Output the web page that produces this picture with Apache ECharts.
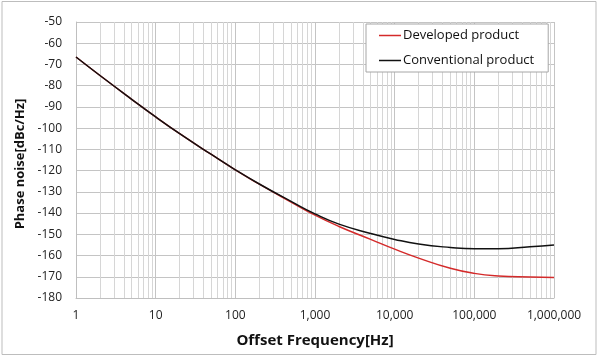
<!DOCTYPE html>
<html><head><meta charset="utf-8">
<script src="https://cdn.jsdelivr.net/npm/echarts@6/dist/echarts.min.js"></script>
<style>html,body{margin:0;padding:0;background:#fff}#c{width:600px;height:358px}</style>
</head><body><div id="c"></div>
<script>
const freqs = [1, 2, 5, 10, 20, 50, 100, 200, 500, 1000, 2000, 5000, 10000, 20000, 50000, 100000, 200000, 500000, 1000000];
const developed = [-66.5, -75.2, -86.4, -94.7, -102.6, -112.4, -119.7, -126.4, -134.8, -141.0, -146.3, -152.4, -157.0, -161.2, -166.0, -168.4, -169.6, -170.1, -170.3];
const conventional = [-66.5, -75.2, -86.4, -94.7, -102.6, -112.4, -119.6, -126.3, -134.5, -140.4, -145.2, -149.6, -152.4, -154.6, -156.2, -156.8, -156.8, -155.9, -155.0];
const yTicks = [-180, -50, 10];
const minorLines = [];
for (let d = 1; d < 1000000; d *= 10) for (let k = 2; k <= 9; k++) minorLines.push(d * k);

const font = "'Open Sans', 'Liberation Sans', sans-serif";
const chart = echarts.init(document.getElementById('c'));
chart.setOption({
  animation: false,
  textStyle: { fontFamily: font },
  grid: { left: 76, right: 46, top: 22, bottom: 60 },
  graphic: [{ type: 'rect', shape: { x: 2, y: 1.5, width: 594, height: 353 }, style: { fill: 'none', stroke: '#bdbdbd', lineWidth: 1 }, silent: true }],
  legend: {
    orient: 'vertical', left: 366, top: 24, width: 185,
    padding: [5, 14, 5, 13], itemGap: 12,
    backgroundColor: '#fff', borderColor: '#a6a6a6', borderWidth: 1,
    icon: 'rect', itemWidth: 22, itemHeight: 1.5,
    textStyle: { fontFamily: font, fontSize: 13, color: '#111', padding: [0, 0, 0, -3] },
    data: ['Developed product', 'Conventional product']
  },
  xAxis: {
    type: 'log', logBase: 10, min: 1, max: 1000000,
    name: 'Offset Frequency[Hz]', nameLocation: 'middle', nameGap: 35,
    nameTextStyle: { fontFamily: font, fontSize: 15, fontWeight: 'bold', color: '#111' },
    axisLine: { lineStyle: { color: '#bfbfbf' } },
    axisTick: { show: false },
    axisLabel: { color: '#222', fontSize: 12, margin: 12, formatter: v => Number(v).toLocaleString('en-US') },
    splitLine: { show: true, lineStyle: { color: '#c4c4c4' } }
  },
  yAxis: {
    type: 'value', min: yTicks[0], max: yTicks[1], interval: yTicks[2],
    name: 'Phase noise[dBc/Hz]', nameLocation: 'middle', nameGap: 44,
    nameTextStyle: { fontFamily: font, fontSize: 13, fontWeight: 'bold', color: '#111', padding: [0, 8, 0, 0] },
    axisLine: { show: true, lineStyle: { color: '#bfbfbf' } },
    axisTick: { show: false },
    axisLabel: { color: '#222', fontSize: 12, margin: 14 },
    splitLine: { lineStyle: { color: '#c4c4c4' } }
  },
  series: [
    {
      name: 'Developed product', type: 'line', smooth: true, showSymbol: false,
      data: freqs.map((f, i) => [f, developed[i]]),
      lineStyle: { color: '#d42a2a', width: 1.5 }, itemStyle: { color: '#d42a2a' }, z: 3,
      markLine: {
        silent: true, symbol: ['none', 'none'], label: { show: false },
        lineStyle: { color: '#d6d6d6', type: 'solid', width: 1 },
        data: minorLines.map(v => ({ xAxis: v })), z: 1
      }
    },
    {
      name: 'Conventional product', type: 'line', smooth: true, showSymbol: false,
      data: freqs.map((f, i) => [f, conventional[i]]),
      lineStyle: { color: '#111', width: 1.5 }, itemStyle: { color: '#111' }, z: 4
    }
  ]
});
</script></body></html>
